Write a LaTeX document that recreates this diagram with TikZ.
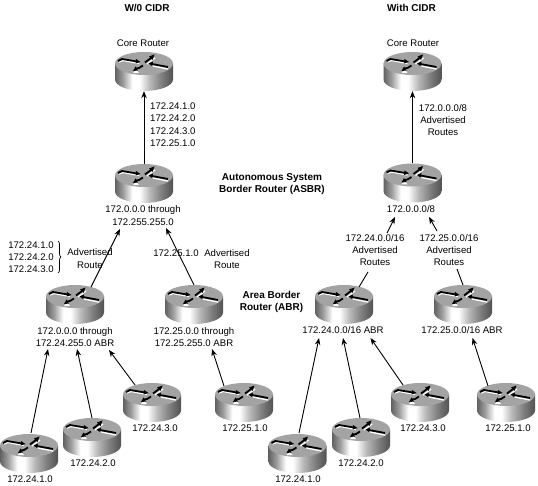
\documentclass[tikz,border=0pt]{standalone}
\usepackage{fontspec}
\setmainfont{Liberation Sans}
\usetikzlibrary{arrows.meta,decorations.pathreplacing}
\pgfdeclarehorizontalshading{routerside}{100bp}{
 color(0bp)=(black!62);color(25bp)=(black!62);color(32bp)=(black!38);
 color(40bp)=(white);color(46bp)=(white);color(55bp)=(black!28);color(65bp)=(black!50);color(75bp)=(black!68);color(100bp)=(black!68)}
\tikzset{
 x=1pt,y=-1pt,
 lbl/.style={font=\fontsize{9.6pt}{12.3pt}\selectfont,inner sep=0pt,align=center},
 hdr/.style={font=\fontsize{10pt}{12.5pt}\selectfont\bfseries,inner sep=0pt,align=center},
 ttl/.style={font=\fontsize{10pt}{12pt}\selectfont\bfseries,inner sep=0pt},
 conn/.style={line width=0.9pt,draw=black},
 arr/.style={conn,-{Stealth[length=7pt,width=5.5pt]}},
 ga/.style={line width=1.8pt,draw=black},
 gw/.style={line width=1.3pt,draw=white},
 anchorbox/.style={inner sep=0pt,minimum width=58pt,minimum height=39pt},
 pics/router/.style={code={
  \shade[shading=routerside] (-29,-1.5) -- (-29,14.5) arc[start angle=180,end angle=0,x radius=29,y radius=11.5] -- (29,-1.5) -- cycle;
  \fill[black!36] (0,-1.5) ellipse[x radius=29,y radius=11.5];
  % white relief
  \draw[gw] (-25,-3) -- (-21,-4.5) -- (-5,-1.5);
  \draw[gw] (3,-1) -- (11,-7);
  \draw[gw] (9,1) -- (24,4);
  \fill[white] (-11,8) -- (-5,8) -- (-8,4) -- cycle;
  % black arrows
  \draw[ga] (-26,-4) -- (-22,-6) -- (-7,-3.5);
  \fill (-8,-6) -- (-3.5,-3) -- (-8.5,-1.5) -- cycle;
  \draw[ga] (1,-2.5) -- (7,-7);
  \fill (5,-8.5) -- (10.5,-10.5) -- (8.5,-5) -- cycle;
  \draw[ga] (8,-1) -- (24,2);
  \fill (4.5,-1.5) -- (9,-3.5) -- (8,1) -- cycle;
  \draw[ga] (-1,0.5) -- (-5,3) -- (-8,3.5);
  \fill (-11,6) -- (-6,5.5) -- (-8.5,1.5) -- cycle;
 }}
}
\begin{document}
\begin{tikzpicture}
\useasboundingbox (0,0) rectangle (538,486);
\fill[white] (0,0) rectangle (538,486);
% routers
\foreach \n/\cx/\cy in {
 lcore/144/65,lasbr/144/177,labra/75/298,labrb/194/298,
 lra/29/447,lrb/92/431,lrc/152/396,lrd/244/396,
 rcore/412.5/65,rasbr/412.5/176.5,rabra/344/298,rabrb/463/298,
 rra/297.5/447,rrb/361/431,rrc/420/396,rrd/506/396}{
  \node[anchorbox] (\n) at (\cx,\cy+6.5) {};
  \pic at (\cx,\cy) {router};
}
% connector ends
\coordinate (a1) at (120,229);
\coordinate (a2) at (166,228);
\coordinate (a3) at (48,349);
\coordinate (a4) at (77,349);
\coordinate (a5) at (109,350);
\coordinate (a6) at (212,349);
\coordinate (b1) at (368,272);
\coordinate (b2) at (387,233);
\coordinate (b3) at (395,217);
\coordinate (c1) at (457,269);
\coordinate (c2) at (437,231);
\coordinate (c3) at (429,217);
\coordinate (d1) at (319,338);
\coordinate (d2) at (343,338);
\coordinate (d3) at (370.5,338);
\coordinate (d4) at (472.5,338);
\coordinate (s1) at (91,287);
\coordinate (s2) at (194,285);
\coordinate (s3) at (31,433);
\coordinate (s4) at (92,418);
\coordinate (s5) at (135,385);
\coordinate (s6) at (224,386);
\coordinate (s8) at (359,287);
\coordinate (s9) at (463,285);
\coordinate (s10) at (299,433);
\coordinate (s11) at (360,418);
\coordinate (s12) at (403,385);
\coordinate (s13) at (488,386);
% connectors
\draw[arr] (lasbr.north) -- (lcore.south);
\draw[arr] (s1) -- (a1);
\draw[arr] (s2) -- (a2);
\draw[arr] (s3) -- (a3);
\draw[arr] (s4) -- (a4);
\draw[arr] (s5) -- (a5);
\draw[arr] (s6) -- (a6);
\draw[arr] (rasbr.north) -- (rcore.south);
\draw[conn] (s8) -- (b1);
\draw[arr] (b2) -- (b3);
\draw[conn] (s9) -- (c1);
\draw[arr] (c2) -- (c3);
\draw[arr] (s10) -- (d1);
\draw[arr] (s11) -- (d2);
\draw[arr] (s12) -- (d3);
\draw[arr] (s13) -- (d4);
% titles
\node[ttl] (t1) at (147,8) {W/0 CIDR};
\node[ttl] (t2) at (411.5,8) {With CIDR};
\node[hdr] (h1) at (272,184) {Autonomous System\\Border Router (ASBR)};
\node[hdr] (h2) at (271.5,302) {Area Border\\Router (ABR)};
% labels left
\node[lbl] (l1) at (143,43) {Core Router};
\node[lbl,anchor=north west] (l2) at (150,102.5) {172.24.1.0\\172.24.2.0\\172.24.3.0\\172.25.1.0};
\node[lbl] (l3) at (143,215.5) {172.0.0.0 through\\172.255.255.0};
\node[lbl] (l4) at (31,257) {172.24.1.0\\172.24.2.0\\172.24.3.0};
\draw[conn,line width=0.7pt,decorate,decoration={brace,amplitude=3pt}] (58,241) coordinate (k1) -- (58,273) coordinate (k2);
\node[lbl] (l5) at (90,258.5) {Advertised\\Route};
\node[lbl] (l6) at (176,253) {172.25.1.0};
\node[lbl] (l7) at (227,259) {Advertised\\Route};
\node[lbl] (l8) at (75,337) {172.0.0.0 through\\172.24.255.0 ABR};
\node[lbl] (l9) at (194,337) {172.25.0.0 through\\172.25.255.0 ABR};
\node[lbl] (l10) at (30,479) {172.24.1.0};
\node[lbl] (l11) at (93,463) {172.24.2.0};
\node[lbl] (l12) at (155,428.5) {172.24.3.0};
\node[lbl] (l13) at (245,428.5) {172.25.1.0};
% labels right
\node[lbl] (r1) at (413,43) {Core Router};
\node[lbl] (r2) at (443,120) {172.0.0.0/8\\Advertised\\Routes};
\node[lbl] (r3) at (411,209) {172.0.0.0/8};
\node[lbl] (r4) at (375,250) {172.24.0.0/16\\Advertised\\Routes};
\node[lbl] (r5) at (449,250) {172.25.0.0/16\\Advertised\\Routes};
\node[lbl] (r6) at (343,330) {172.24.0.0/16 ABR};
\node[lbl] (r7) at (462,330) {172.25.0.0/16 ABR};
\node[lbl] (r8) at (298,479) {172.24.1.0};
\node[lbl] (r9) at (361,463) {172.24.2.0};
\node[lbl] (r10) at (423,428.5) {172.24.3.0};
\node[lbl] (r11) at (508,428.5) {172.25.1.0};
\end{tikzpicture}
\end{document}
